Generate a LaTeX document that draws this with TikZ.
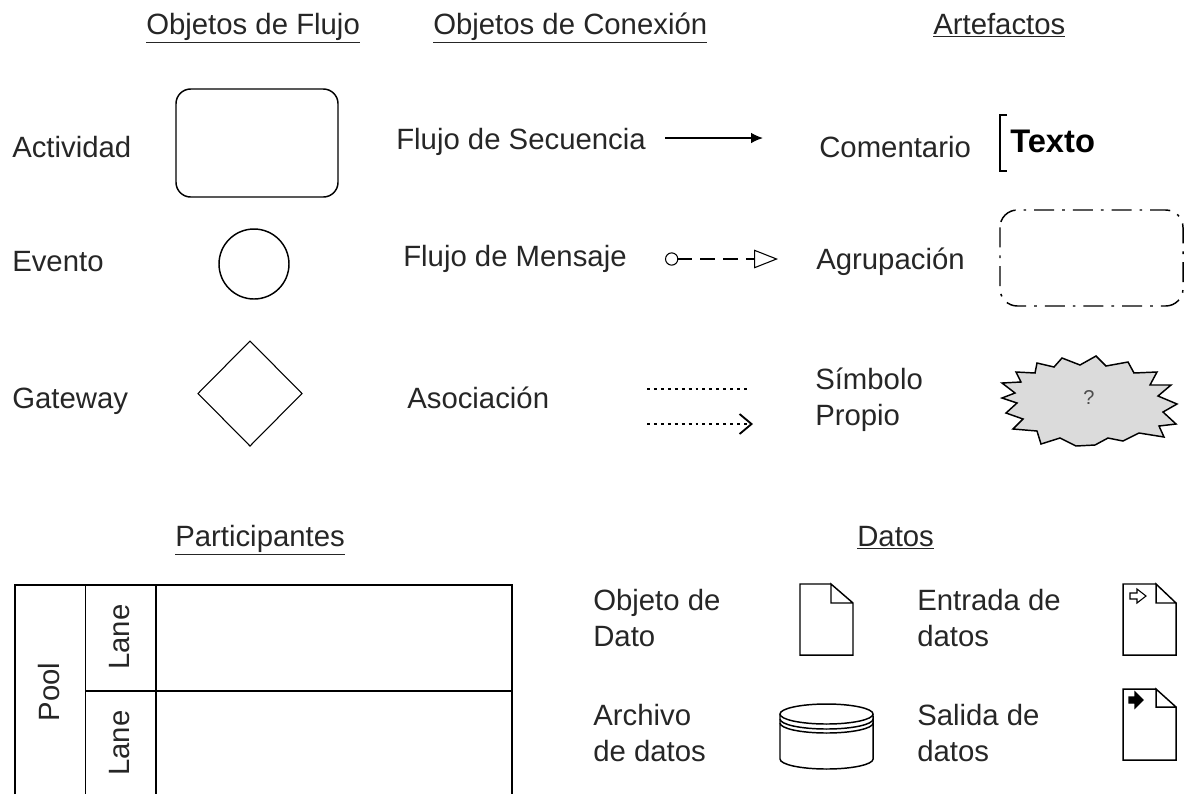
\documentclass[tikz,border=0pt]{standalone}
\usepackage{fontspec}
\setmainfont{Liberation Sans}
\usetikzlibrary{arrows.meta}
\tikzset{
  lbl/.style = {font=\fontsize{22}{27}\selectfont, anchor=base west, inner sep=0pt, text=black!85},
  lbltwo/.style = {lbl, anchor=west, align=left},
  rotlbl/.style = {font=\fontsize{22}{27}\selectfont, anchor=base, rotate=90, inner sep=0pt, text=black!85},
  sym/.style = {draw=black, line width=1.1pt},
  thin sym/.style = {draw=black, line width=.8pt}
}
\begin{document}
\begin{tikzpicture}[x=0.75pt, y=-0.75pt]
  \useasboundingbox (0, 0) rectangle (1184, 794);
  %titles
  \node[lbl] (tflujo) at (146, 34) {\underline{Objetos de Flujo}};
  \node[lbl] (tconex) at (433, 34) {\underline{Objetos de Conexión}};
  \node[lbl] (tarte) at (933, 34) {\underline{Artefactos}};
  \node[lbl] (tpart) at (175, 546) {\underline{Participantes}};
  \node[lbl] (tdatos) at (857, 546) {\underline{Datos}};

  %flow objects
  \node[lbl] (actividad) at (12, 157) {Actividad};
  \node[lbl] (evento) at (12, 271) {Evento};
  \node[lbl] (gateway) at (12, 408) {Gateway};
  \draw [sym, rounded corners=11pt] (176, 89) rectangle (338, 197);
  \draw [sym] (254, 264) circle [radius=26.25pt];
  \draw [thin sym] (250, 341) -- (302, 393.5) -- (250, 446) -- (198, 393.5) -- cycle;

  %connecting objects
  \node[lbl] (secuencia) at (396, 149) {Flujo de Secuencia};
  \node[lbl] (mensaje) at (403, 266) {Flujo de Mensaje};
  \node[lbl] (asociacion) at (407, 408) {Asociación};
  \coordinate (seqa) at (665, 138);
  \coordinate (seqb) at (763, 138);
  \draw [sym, -{Latex[length=9pt, width=8pt]}] (seqa) -- (seqb);
  \coordinate (msga) at (665, 259);
  \coordinate (msgb) at (778, 259);
  \draw [thin sym, dash pattern=on 11pt off 6pt, {Circle[open, length=10pt, width=10pt]}-{Triangle[open, length=18pt, width=14pt]}] (msga) -- (msgb);
  \coordinate (asoa) at (647, 389);
  \coordinate (asob) at (748, 389);
  \draw [sym, line width=1.4pt, dash pattern=on 2.2pt off 3pt] (asoa) -- (asob);
  \coordinate (asoc) at (647, 424);
  \coordinate (asod) at (753, 424);
  \draw [sym, line width=1.4pt, dash pattern=on 2.2pt off 3pt, -{Straight Barb[length=9pt, width=15pt]}] (asoc) -- (asod);

  %artifacts
  \node[lbl] (comentario) at (819, 157) {Comentario};
  \node[lbl] (agrupacion) at (816, 269) {Agrupación};
  \node[lbltwo] (simbolo) at (815, 400) {Símbolo\\Propio};
  \draw [sym] (1007, 115) -- (1000, 115) -- (1000, 171) -- (1007, 171);
  \node[lbl, text=black, font=\fontsize{24.5}{29}\selectfont\bfseries] (texto) at (1010, 152) {Texto};
  \draw [sym, rounded corners=13pt, dash pattern=on 15pt off 6pt on 2pt off 6pt] (1000, 210) rectangle (1183, 306);
  %spiky guy
  \draw [sym, fill=black!14]
    (1016, 372) -- (1035, 373) -- (1037, 363) -- (1054, 367) -- (1062, 358) -- (1080, 365)
    -- (1096, 356) -- (1106, 366) -- (1128, 362) -- (1134, 373) -- (1157, 372) -- (1150, 385)
    -- (1171, 385) -- (1158, 396) -- (1177, 404) -- (1163, 412) -- (1176, 424) -- (1159, 426)
    -- (1164, 437) -- (1139, 433) -- (1123, 441) -- (1108, 438) -- (1095, 445) -- (1076, 446)
    -- (1060, 438) -- (1041, 444) -- (1037, 431) -- (1013, 429) -- (1023, 419) -- (1006, 413)
    -- (1017, 403) -- (1002, 398) -- (1015, 393) -- (1002, 383) -- (1021, 382) -- cycle;
  \node[inner sep=0pt, font=\fontsize{15}{18}\selectfont, text=black!70] (pregunta) at (1089, 398) {?};

  %pool
  \draw [sym] (15, 794) -- (15, 585) -- (512, 585) -- (512, 794);
  \draw [sym] (85.5, 585) -- (85.5, 794);
  \draw [sym] (156, 585) -- (156, 794);
  \draw [sym] (85.5, 691) -- (512, 691);
  \node[rotlbl] (pool) at (59, 692) {Pool};
  \node[rotlbl] (lanea) at (129, 637) {Lane};
  \node[rotlbl] (laneb) at (129, 743) {Lane};

  %data
  \node[lbltwo] (objeto) at (593, 618) {Objeto de\\Dato};
  \node[lbltwo] (entrada) at (917, 618) {Entrada de\\datos};
  \node[lbltwo] (archivo) at (593, 733) {Archivo\\de datos};
  \node[lbltwo] (salida) at (917, 733) {Salida de\\datos};
  %pages
  \draw [sym] (831, 584) -- (800, 584) -- (800, 655) -- (853, 655) -- (853, 603) -- (831, 584) -- (831, 603) -- (853, 603);
  \draw [sym] (1156, 584) -- (1123, 584) -- (1123, 655) -- (1176, 655) -- (1176, 603) -- (1156, 584) -- (1156, 603) -- (1176, 603);
  \draw [sym] (1156, 689) -- (1123, 689) -- (1123, 760) -- (1176, 760) -- (1176, 707) -- (1156, 689) -- (1156, 707) -- (1176, 707);
  %page arrows
  \draw [thin sym] (1130, 593) -- (1137, 593) -- (1137, 589) -- (1146, 596) -- (1137, 603) -- (1137, 599) -- (1130, 599) -- cycle;
  \draw [thin sym, fill=black] (1129, 697) -- (1135, 697) -- (1135, 692) -- (1143, 700) -- (1135, 708) -- (1135, 703) -- (1129, 703) -- cycle;
  %can
  \draw [sym] (826.5, 714) ellipse [x radius=34.9pt, y radius=7.5pt];
  \draw [sym] (780, 714) -- (780, 759) arc [start angle=180, end angle=360, x radius=34.9pt, y radius=7.5pt] -- (873, 714);
  \draw [sym] (780, 719) arc [start angle=180, end angle=360, x radius=34.9pt, y radius=7.5pt];
  \draw [sym] (780, 723) arc [start angle=180, end angle=360, x radius=34.9pt, y radius=7.5pt];
\end{tikzpicture}
\end{document}
